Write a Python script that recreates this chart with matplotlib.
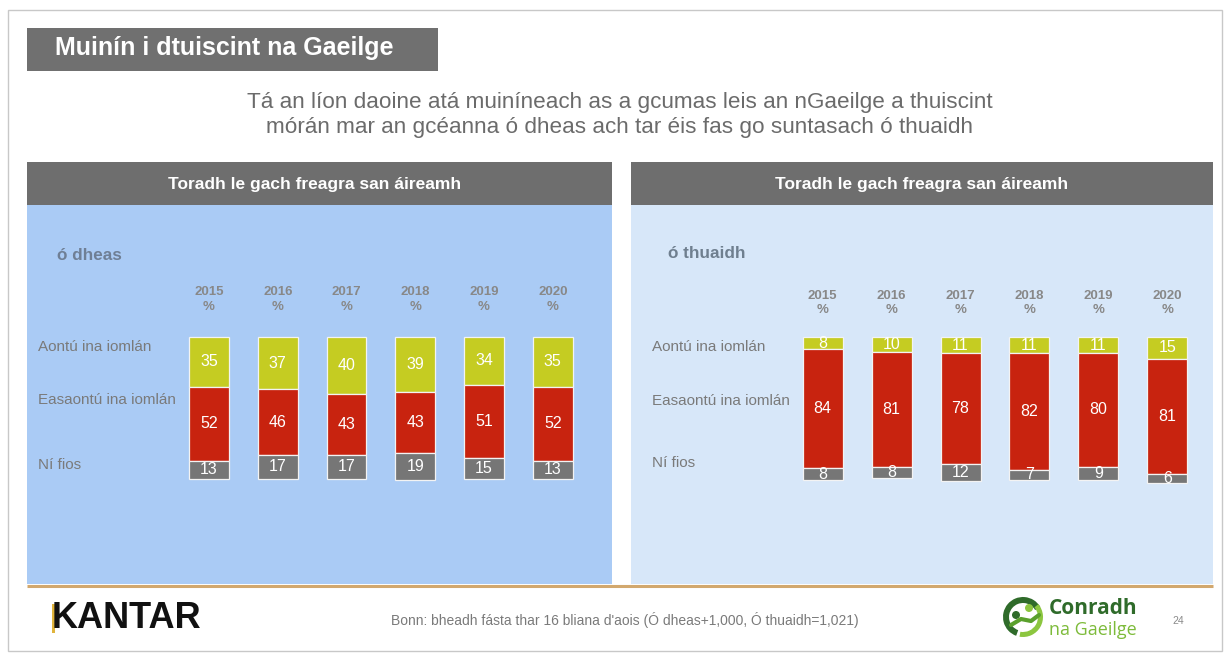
import matplotlib
matplotlib.use("Agg")
import matplotlib.pyplot as plt
from matplotlib.patches import Rectangle, Circle, Wedge
import numpy as np

plt.rcParams['font.family'] = ['Liberation Sans', 'DejaVu Sans']

# ---------------- data ----------------
years = ["2015", "2016", "2017", "2018", "2019", "2020"]
row_labels = ["Aontú ina iomlán", "Easaontú ina iomlán", "Ní fios"]

south_agree = [35, 37, 40, 39, 34, 35]
south_disagree = [52, 46, 43, 43, 51, 52]
south_dontknow = [13, 17, 17, 19, 15, 13]

north_agree = [8, 10, 11, 11, 11, 15]
north_disagree = [84, 81, 78, 82, 80, 81]
north_dontknow = [8, 8, 12, 7, 9, 6]

title = "Muinín i dtuiscint na Gaeilge"
subtitle = ("Tá an líon daoine atá muiníneach as a gcumas leis an nGaeilge a thuiscint\n"
            "mórán mar an gcéanna ó dheas ach tar éis fas go suntasach ó thuaidh")
panel_header = "Toradh le gach freagra san áireamh"
south_name = "ó dheas"
north_name = "ó thuaidh"
footer = "Bonn: bheadh fásta thar 16 bliana d'aois (Ó dheas+1,000, Ó thuaidh=1,021)"

# ---------------- colours ----------------
C_AGREE = "#c5cc22"
C_DIS = "#c8230f"
C_DK = "#767676"
C_HEAD = "#6e6e6e"
C_SOUTH_BG = "#aacbf5"
C_NORTH_BG = "#d7e7f9"
C_TXT = "#7a7a7a"

W, H = 1229, 657
fig = plt.figure(figsize=(W / 100, H / 100), dpi=100)
fig.patch.set_facecolor("white")

bg = fig.add_axes([0, 0, 1, 1])
bg.set_xlim(0, W)
bg.set_ylim(H, 0)
bg.axis("off")
bg.set_zorder(0)

def rect(x0, y0, x1, y1, **kw):
    bg.add_patch(Rectangle((x0, y0), x1 - x0, y1 - y0, **kw))

# slide frame
rect(8, 10, 1222, 651, facecolor="white", edgecolor="#c8c8c8", lw=1.0)

# title box
rect(27, 28, 438, 71, facecolor="#707070", edgecolor="none")
bg.text(55, 48, title, color="white", fontsize=18, fontweight="bold",
        ha="left", va="center")

# subtitle
bg.text(620, 115, subtitle, color="#6b6b6b", fontsize=16.2, ha="center",
        va="center", linespacing=1.2)

# panels
rect(27, 162, 612, 205, facecolor=C_HEAD, edgecolor="none")
rect(27, 205, 612, 584, facecolor=C_SOUTH_BG, edgecolor="none")
rect(631, 162, 1213, 205, facecolor=C_HEAD, edgecolor="none")
rect(631, 205, 1213, 584, facecolor=C_NORTH_BG, edgecolor="none")
bg.text(315, 184, panel_header, color="white", fontsize=12.5, fontweight="bold",
        ha="center", va="center")
bg.text(922, 185, panel_header, color="white", fontsize=12.5, fontweight="bold",
        ha="center", va="center")

# bottom decorative line
bg.plot([27, 1213], [585.5, 585.5], color="#d2a86e", lw=2.2, solid_capstyle="butt")

bg.text(57, 256, south_name, color="#6f7f95", fontsize=12.3, fontweight="bold",
        ha="left", va="center")
bg.text(668, 254, north_name, color="#6f7f8f", fontsize=12.3, fontweight="bold",
        ha="left", va="center")

for lbl, y in zip(row_labels, [347, 400, 465]):
    bg.text(38, y, lbl, color=C_TXT, fontsize=11, ha="left", va="center")
for lbl, y in zip(row_labels, [347, 401, 463]):
    bg.text(652, y, lbl, color=C_TXT, fontsize=11, ha="left", va="center")

# footer
bg.text(52, 619, "KANTAR", color="#111111", fontsize=26, fontweight="bold",
        ha="left", va="center")
rect(52, 604, 55, 633, facecolor="#e0b43c", edgecolor="none")
bg.text(625, 620, footer, color="#7a7a7a", fontsize=10, ha="center", va="center")
bg.text(1172, 621, "24", color="#8a8a8a", fontsize=7.5, ha="left", va="center")

# Conradh logo (simple drawn emblem)
cx, cy = 1023, 617
bg.add_patch(Wedge((cx, cy), 20, 110, 330, width=6, facecolor="#2f6b2a", edgecolor="none"))
bg.add_patch(Wedge((cx, cy), 20, -40, 100, width=5, facecolor="#8cc63f", edgecolor="none"))
bg.add_patch(Circle((cx - 7, cy - 2), 4, facecolor="#2f6b2a", edgecolor="none"))
bg.add_patch(Circle((cx + 6, cy - 9), 4, facecolor="#8cc63f", edgecolor="none"))
bg.plot([cx - 12, cx - 2, cx + 8, cx + 16], [cy + 8, cy + 2, cy + 4, cy - 2],
        color="#5aa02c", lw=3, solid_capstyle="round")
bg.text(1049, 609, "Conradh", color="#2f6b2a", fontsize=15, fontweight="bold",
        ha="left", va="center", family=["Open Sans", "DejaVu Sans"])
bg.text(1049, 630, "na Gaeilge", color="#7dbb3a", fontsize=13,
        ha="left", va="center", family=["Open Sans", "DejaVu Sans"])


def px_axes(x0, x1, y0, y1):
    return fig.add_axes([x0 / W, 1 - y1 / H, (x1 - x0) / W, (y1 - y0) / H])


def draw_panel(ax, agree, dis, dk, pad):
    x = np.arange(len(years))
    agree = np.array(agree)
    dis = np.array(dis)
    dk = np.array(dk)
    kw = dict(width=0.58, edgecolor="#f3f3f3", linewidth=0.9, clip_on=False)
    ax.bar(x, agree, bottom=0, color=C_AGREE, **kw)
    ax.bar(x, dis, bottom=agree, color=C_DIS, **kw)
    ax.bar(x, dk, bottom=agree + dis, color=C_DK, **kw)
    for i in range(len(x)):
        ax.text(x[i], agree[i] / 2, str(agree[i]), color="white", fontsize=11.5,
                ha="center", va="center", clip_on=False)
        ax.text(x[i], agree[i] + dis[i] / 2, str(dis[i]), color="white", fontsize=11.5,
                ha="center", va="center", clip_on=False)
        ax.text(x[i], agree[i] + dis[i] + dk[i] / 2, str(dk[i]), color="white",
                fontsize=11.5, ha="center", va="center", clip_on=False)
    ax.set_xlim(-0.5, len(years) - 0.5)
    ax.set_ylim(100, 0)
    ax.set_xticks(x)
    ax.set_xticklabels([y + "\n%" for y in years])
    ax.tick_params(axis="x", length=0, pad=pad, labelsize=9.5, labelcolor="#888888",
                   top=True, labeltop=True, bottom=False, labelbottom=False)
    for lbl in ax.get_xticklabels():
        lbl.set_fontweight("bold")
        lbl.set_linespacing(1.3)
    ax.set_yticks([])
    for s in ax.spines.values():
        s.set_visible(False)
    ax.patch.set_alpha(0)


sp = 68.8
axS = px_axes(209 - sp / 2, 552.8 + sp / 2, 336.7, 479.0)
draw_panel(axS, south_agree, south_disagree, south_dontknow, pad=17)

sp2 = 68.92
axN = px_axes(822.7 - sp2 / 2, 1167.3 + sp2 / 2, 337.3, 479.8)
draw_panel(axN, north_agree, north_disagree, north_dontknow, pad=15)

fig.savefig("out.png", dpi=100, facecolor="white")
